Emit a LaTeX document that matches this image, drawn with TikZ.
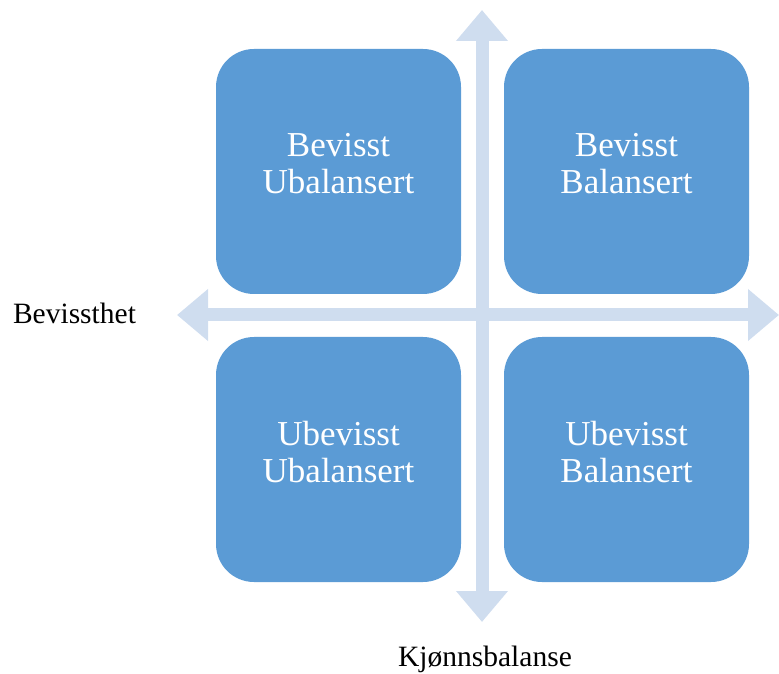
\documentclass[tikz,border=0pt]{standalone}
\usepackage{fontspec}
\setmainfont{Liberation Serif}
\usetikzlibrary{arrows.meta, positioning}
\definecolor{boxblue}{HTML}{5B9BD5}
\definecolor{axisblue}{HTML}{CFDDEF}

\begin{document}
\begin{tikzpicture}[x=1pt, y=1pt, node distance=288pt]
        \tikzstyle{quadrant} = [rectangle, rounded corners=38pt, minimum width=245pt, minimum height=245pt, text depth=16pt, fill=boxblue, text=white, align=center, font=\fontsize{35}{37}\selectfont]
        \tikzstyle{axis} = [draw=axisblue, line width=13pt, {Triangle[width=50pt, length=31pt]}-{Triangle[width=50pt, length=31pt]}]
        \tikzstyle{axislabel} = [anchor=base, inner sep=0pt, font=\fontsize{29.5}{34}\selectfont]
        \useasboundingbox (0,0) rectangle (779,673);

        %axes
        \coordinate (north) at (482,663);
        \coordinate (south) at (482,51);
        \coordinate (west) at (177,358);
        \coordinate (east) at (779,358);
        \draw[axis] (south) -- (north);
        \draw[axis] (west) -- (east);

        %quadrants
        \node[quadrant] (bevisstUbal) at (338.5,501.5) {Bevisst\\Ubalansert};
        \node[quadrant, right of=bevisstUbal] (bevisstBal) {Bevisst\\Balansert};
        \node[quadrant, below of=bevisstUbal] (ubevisstUbal) {Ubevisst\\Ubalansert};
        \node[quadrant, right of=ubevisstUbal] (ubevisstBal) {Ubevisst\\Balansert};

        %labels
        \node[axislabel] (bevissthet) at (74.5,349) {Bevissthet};
        \node[axislabel] (balanse) at (485,7) {Kjønnsbalanse};
    \end{tikzpicture}
\end{document}
